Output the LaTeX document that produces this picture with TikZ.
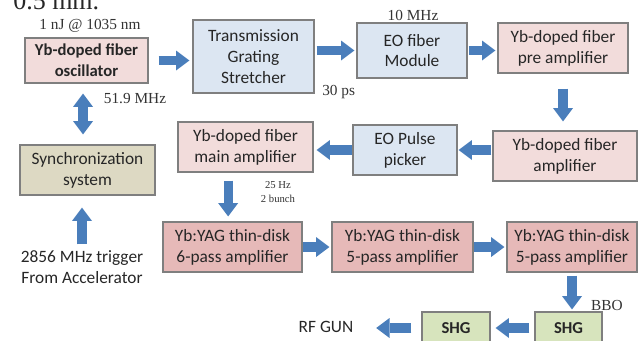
\documentclass[tikz,border=0pt]{standalone}
\usepackage{fontspec}
\setmainfont{Carlito}
\newfontfamily\tms{Liberation Serif}
\usetikzlibrary{arrows.meta}
\definecolor{pinkA}{HTML}{F2DCDB}
\definecolor{pinkB}{HTML}{E6B9B8}
\definecolor{blueA}{HTML}{DCE6F2}
\definecolor{tanA}{HTML}{DDD9C3}
\definecolor{greenA}{HTML}{D7E4BD}
\definecolor{arrowblue}{HTML}{4A7EBB}
\definecolor{edgegray}{HTML}{7F7F7F}
\begin{document}
\begin{tikzpicture}[x=0.75pt,y=-0.75pt,
  box/.style={draw=edgegray, line width=0.9pt, align=center, inner sep=0pt,
    font=\fontsize{13}{15.6}\selectfont, text=black!85},
  boldbox/.style={box, font=\fontsize{12.5}{15.6}\selectfont\bfseries},
  sz/.style 2 args={minimum width=#1*0.75pt, minimum height=#2*0.75pt},
  lbl/.style={font=\tms\fontsize{11.5}{13}\selectfont, text=black!80, inner sep=0pt},
  txt/.style={font=\fontsize{13}{15.6}\selectfont, align=center, inner sep=0pt, text=black!85},
  barrow/.style={draw=arrowblue, line width=7pt, -{Triangle[width=15pt,length=10pt,line width=0pt]}},
  dbarrow/.style={draw=arrowblue, line width=7pt, {Triangle[width=15pt,length=10pt,line width=0pt]}-{Triangle[width=15pt,length=10pt,line width=0pt]}},
]
\useasboundingbox (0,0) rectangle (638,340);
\clip (0,0) rectangle (638,340);

% partial text at the top
\node[font=\tms\fontsize{19.5}{20}\selectfont, anchor=base west, inner sep=0pt, text=black!85] (top) at (13,9) {0.5 mm.};

% boxes
\node[boldbox, fill=pinkA, sz={123}{45}] (osc) at (86.5,60.5) {Yb-doped fiber\\oscillator};
\node[box, fill=blueA, sz={121}{73}] (str) at (253.5,56.5) {Transmission\\Grating\\Stretcher};
\node[box, fill=blueA, sz={110}{55}] (eo) at (412,50.5) {EO fiber\\Module};
\node[box, fill=pinkA, sz={130}{50}] (pre) at (563,48) {Yb-doped fiber\\pre amplifier};
\node[box, fill=pinkA, sz={144}{50}] (amp) at (565,156) {Yb-doped fiber\\amplifier};
\node[box, fill=blueA, sz={104}{50}] (pick) at (405,150) {EO Pulse\\picker};
\node[box, fill=pinkA, sz={135}{50}] (main) at (245.5,147) {Yb-doped fiber\\main amplifier};
\node[box, fill=tanA, sz={135}{50}] (sync) at (87.5,170) {Synchronization\\system};
\node[box, fill=pinkB, sz={139}{50}] (y6) at (232.5,247) {Yb:YAG thin-disk\\6-pass amplifier};
\node[box, fill=pinkB, sz={141}{50}] (y5a) at (402.5,247) {Yb:YAG thin-disk\\5-pass amplifier};
\node[box, fill=pinkB, sz={130}{50}] (y5b) at (572,247) {Yb:YAG thin-disk\\5-pass amplifier};
\node[boldbox, fill=greenA, sz={67}{32}] (shg2) at (568.5,328) {SHG};
\node[boldbox, fill=greenA, sz={68}{32}] (shg1) at (456,328) {SHG};

% plain texts
\node[txt] (rf) at (326,327) {RF GUN};
\node[txt] (trig) at (82,267) {2856 MHz trigger\\From Accelerator};

% labels
\node[lbl] (l1) at (90,26) {1 nJ @ 1035 nm};
\node[lbl] (l2) at (135,99) {51.9 MHz};
\node[lbl] (l3) at (413,15) {10 MHz};
\node[lbl, anchor=west] (l4) at (322,92) {30 ps};
\node[lbl, font=\tms\fontsize{8}{10}\selectfont, align=center] (l5) at (278,192) {25 Hz\\2 bunch};
\node[lbl] (l6) at (607,305) {BBO};

% arrows
\draw[barrow, shorten <=7.5pt, shorten >=2.25pt] (osc.east) -- (osc.east -| str.west);
\draw[barrow, shorten <=1.5pt, shorten >=1.5pt] (str.east |- eo.west) -- (eo.west);
\draw[barrow, shorten <=1pt, shorten >=1.5pt] (eo.east) -- (eo.east -| pre.west);
\draw[barrow, shorten <=11.25pt, shorten >=6.75pt] (pre.south) -- (pre.south |- amp.north);
\draw[barrow, shorten <=0.75pt, shorten >=0.75pt] (amp.west |- pick.east) -- (pick.east);
\draw[barrow, shorten <=0.5pt, shorten >=2.25pt] (pick.west) -- (pick.west -| main.east);
\draw[barrow, shorten <=6pt, shorten >=3.75pt] ([xshift=-13pt]main.south) -- ([xshift=-13pt]main.south |- y6.north);
\draw[barrow, shorten <=0.5pt, shorten >=1.5pt] (y6.east) -- (y5a.west);
\draw[barrow, shorten <=0.5pt, shorten >=1.5pt] (y5a.east) -- (y5b.west);
\draw[barrow, shorten <=2.25pt, shorten >=1.5pt] (y5b.south) -- (y5b.south |- shg2.north);
\draw[barrow, shorten <=3.75pt, shorten >=3.75pt] (shg2.west) -- (shg1.east);
\draw[barrow, shorten <=7.5pt, shorten >=17pt] (shg1.west) -- (shg1.west -| rf.east);
\draw[dbarrow, shorten <=7.5pt, shorten >=7.5pt] ([xshift=-2.6pt]osc.south) -- ([xshift=-2.6pt]osc.south |- sync.north);
\draw[barrow, shorten <=4.5pt, shorten >=9pt] (trig.north) -- (trig.north |- sync.south);
\end{tikzpicture}
\end{document}
